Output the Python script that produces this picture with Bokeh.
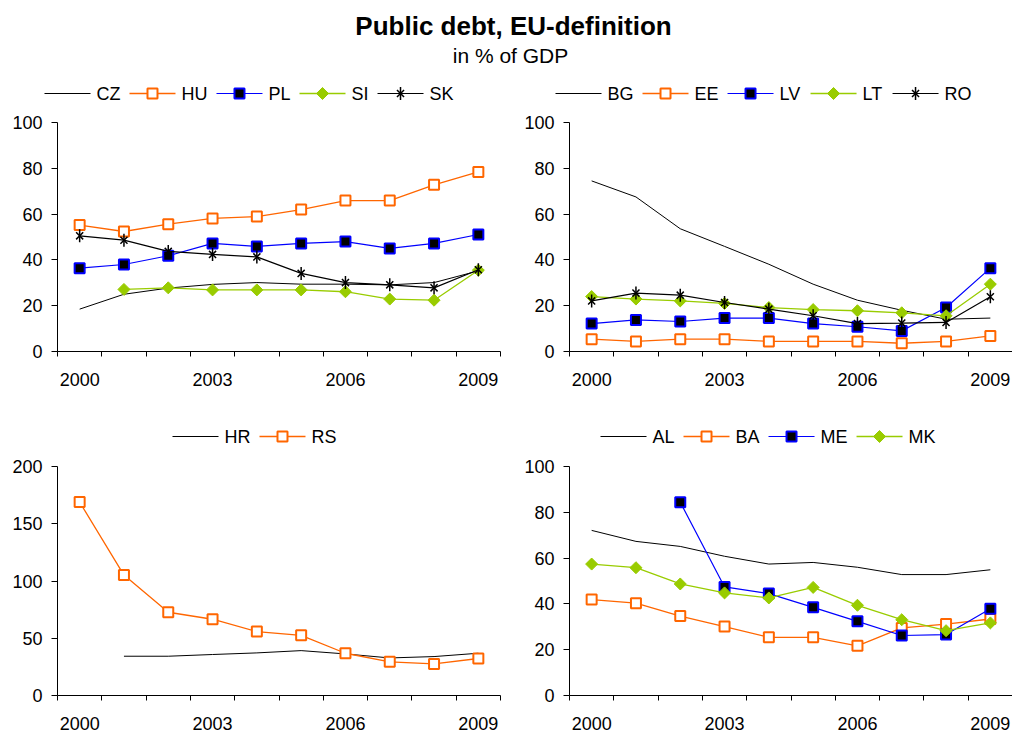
import math
from bokeh.plotting import figure
from bokeh.models import Range1d, FixedTicker, Label
from bokeh.core.properties import value
from bokeh.layouts import column, row
from bokeh.embed import file_html
from bokeh.resources import INLINE

NA = float("nan")

# ---------------- data ----------------
years = [2000, 2001, 2002, 2003, 2004, 2005, 2006, 2007, 2008, 2009]
year_ticks = [2000, 2003, 2006, 2009]

CZ = [18.5, 25.0, 27.7, 29.3, 30.1, 29.4, 29.4, 29.1, 30.1, 35.2]
HU = [55.2, 52.4, 55.6, 58.1, 58.9, 62.0, 65.9, 65.9, 72.8, 78.4]
PL = [36.4, 38.0, 41.8, 47.2, 45.9, 47.2, 48.0, 45.0, 47.2, 51.1]
SI = [NA, 27.1, 27.8, 26.9, 26.9, 26.9, 26.1, 22.9, 22.4, 35.5]
SK = [50.5, 48.6, 43.7, 42.4, 41.3, 34.1, 30.1, 29.1, 27.8, 35.7]

BG = [74.5, 67.5, 53.6, 45.9, 38.1, 29.4, 22.4, 18.0, 14.1, 14.6]
EE = [5.4, 4.4, 5.4, 5.4, 4.4, 4.4, 4.4, 3.6, 4.4, 6.8]
LV = [12.2, 13.8, 13.1, 14.6, 14.6, 12.2, 10.8, 9.0, 19.2, 36.4]
LT = [24.0, 22.9, 22.1, 21.0, 19.2, 18.3, 17.8, 16.9, 15.6, 29.4]
RO = [22.1, 25.5, 24.6, 21.4, 18.5, 15.6, 12.2, 12.4, 12.7, 23.9]

HR = [NA, 34.3, 34.3, 35.8, 37.2, 39.2, 36.3, 32.8, 34.0, 36.9]
RS = [168.9, 105.2, 72.7, 66.6, 55.8, 52.6, 36.9, 29.4, 27.6, 32.3]

AL = [72.1, 67.3, 65.1, 60.8, 57.4, 58.1, 56.0, 52.8, 52.8, 54.9]
BA = [41.9, 40.3, 34.7, 30.1, 25.4, 25.4, 21.7, 29.5, 31.2, 33.4]
ME = [NA, NA, 84.4, 47.4, 44.5, 38.5, 32.4, 26.2, 26.6, 37.9]
MK = [57.4, 55.8, 48.7, 44.8, 42.6, 47.2, 39.4, 33.1, 28.3, 31.7]

panel1 = [("CZ", CZ, "plain"), ("HU", HU, "osq"), ("PL", PL, "bsq"), ("SI", SI, "dia"), ("SK", SK, "star")]
panel2 = [("BG", BG, "plain"), ("EE", EE, "osq"), ("LV", LV, "bsq"), ("LT", LT, "dia"), ("RO", RO, "star")]
panel3 = [("HR", HR, "plain"), ("RS", RS, "osq")]
panel4 = [("AL", AL, "plain"), ("BA", BA, "osq"), ("ME", ME, "bsq"), ("MK", MK, "dia")]

title_text = "Public debt, EU-definition"
subtitle_text = "in % of GDP"

# ---------------- style ----------------
FONT = "Liberation Sans"
ORANGE = "#FF6600"
BLUE = "#0000FF"
GREEN = "#99CC00"
BLACK = "#000000"
PAGE_W = 1012
LINE_STYLE = {"plain": (BLACK, 1.0), "osq": (ORANGE, 1.3), "bsq": (BLUE, 1.2),
              "dia": (GREEN, 1.3), "star": (BLACK, 1.2)}

# Arial / Liberation Sans advance widths (per 1000 em) for legend layout
ADV = {"A": 667, "B": 667, "C": 722, "D": 722, "E": 667, "G": 778, "H": 722, "I": 278,
       "K": 667, "L": 556, "M": 833, "O": 778, "P": 667, "R": 722, "S": 667, "T": 611,
       "U": 722, "V": 667, "Z": 611}
LEG_FS = 18
LEG_GLYPH_W = 46
LEG_STANDOFF = 6
LEG_GAP = 9


def text_w(s):
    return sum(ADV.get(c, 600) for c in s) * LEG_FS / 1000.0


def add_markers(p, xs, ys, kind):
    if kind == "osq":
        p.scatter(xs, ys, marker="square", size=10, fill_color="white",
                  line_color=ORANGE, line_width=2)
    elif kind == "bsq":
        p.scatter(xs, ys, marker="square", size=10, fill_color=BLACK,
                  line_color=BLUE, line_width=2)
    elif kind == "dia":
        p.scatter(xs, ys, marker="square", angle=math.pi / 4, size=8.5,
                  fill_color=GREEN, line_color=GREEN, line_width=1)
    elif kind == "star":
        p.scatter(xs, ys, marker="x", size=10, line_color=BLACK, line_width=1.5)
        p.scatter(xs, ys, marker="dash", angle=math.pi / 2, size=13,
                  line_color=BLACK, line_width=1.5)


def add_series(p, ys, kind):
    color, lw = LINE_STYLE[kind]
    p.line(years, ys, line_color=color, line_width=lw)
    add_markers(p, years, ys, kind)


def blank_fig(width, height):
    f = figure(width=width, height=height, output_backend="svg", toolbar_location=None,
               x_range=Range1d(0, width), y_range=Range1d(0, height), min_border=0)
    f.axis.visible = False
    f.xgrid.visible = False
    f.ygrid.visible = False
    f.outline_line_color = None
    return f


def make_panel(width, height, mb_left, mb_right, mb_top, mb_bottom, ymax, ystep, series):
    p = figure(width=width, height=height, output_backend="svg", toolbar_location=None,
               x_range=Range1d(1999.5, 2009.5), y_range=Range1d(0, ymax),
               min_border_left=mb_left, min_border_right=mb_right,
               min_border_top=mb_top, min_border_bottom=mb_bottom)
    p.xgrid.visible = False
    p.ygrid.visible = False
    p.outline_line_color = None

    xa = p.xaxis[0]
    xa.ticker = FixedTicker(ticks=year_ticks, minor_ticks=[y - 0.5 for y in years] + [years[-1] + 0.5])
    xa.major_tick_out = 0
    xa.major_tick_in = 0
    xa.minor_tick_out = 5
    xa.minor_tick_in = 0
    xa.minor_tick_line_color = BLACK
    xa.axis_line_color = BLACK
    xa.major_label_standoff = 16
    xa.major_label_text_font = FONT
    xa.major_label_text_font_size = "18px"
    xa.major_label_text_color = BLACK

    ya = p.yaxis[0]
    ya.ticker = FixedTicker(ticks=list(range(0, ymax + 1, ystep)))
    ya.major_tick_out = 6
    ya.major_tick_in = 0
    ya.major_tick_line_color = BLACK
    ya.minor_tick_line_color = None
    ya.axis_line_color = BLACK
    ya.major_label_standoff = 9
    ya.major_label_text_font = FONT
    ya.major_label_text_font_size = "18px"
    ya.major_label_text_color = BLACK

    for name, ys, kind in series:
        add_series(p, ys, kind)
    return p


def legend_row(height, yc, specs):
    f = blank_fig(PAGE_W, height)
    for series, x0 in specs:
        x = x0
        for name, ys, kind in series:
            color, lw = LINE_STYLE[kind]
            f.segment(x0=[x], y0=[yc], x1=[x + LEG_GLYPH_W], y1=[yc], line_color=color, line_width=lw)
            add_markers(f, [x + LEG_GLYPH_W / 2], [yc], kind)
            f.text(x=[x + LEG_GLYPH_W + LEG_STANDOFF], y=[yc], text=[name],
                   text_font=value(FONT), text_font_size=f"{LEG_FS}px", text_color=BLACK,
                   text_align="left", text_baseline="middle")
            x += LEG_GLYPH_W + LEG_STANDOFF + text_w(name) + LEG_GAP
    return f


# title
pt = blank_fig(PAGE_W, 70)
pt.add_layout(Label(x=513, y=45, text=title_text, text_align="center", text_baseline="alphabetic",
                    text_font=FONT, text_font_size="26px", text_font_style="bold", text_color=BLACK))
pt.add_layout(Label(x=510, y=15, text=subtitle_text, text_align="center", text_baseline="alphabetic",
                    text_font=FONT, text_font_size="21px", text_color=BLACK))

leg1 = legend_row(40, 17, [(panel1, 44), (panel2, 555)])
leg2 = legend_row(40, 16, [(panel3, 172), (panel4, 600)])

p1 = make_panel(512, 302, 57, 12, 12, 61, 100, 20, panel1)
p2 = make_panel(500, 302, 57, 0, 12, 61, 100, 20, panel2)
p3 = make_panel(512, 280, 57, 12, 14, 37, 200, 50, panel3)
p4 = make_panel(500, 280, 57, 0, 14, 37, 100, 20, panel4)

layout = column(pt, leg1, row(p1, p2), leg2, row(p3, p4))

with open("out.html", "w") as f:
    f.write(file_html(layout, INLINE))
